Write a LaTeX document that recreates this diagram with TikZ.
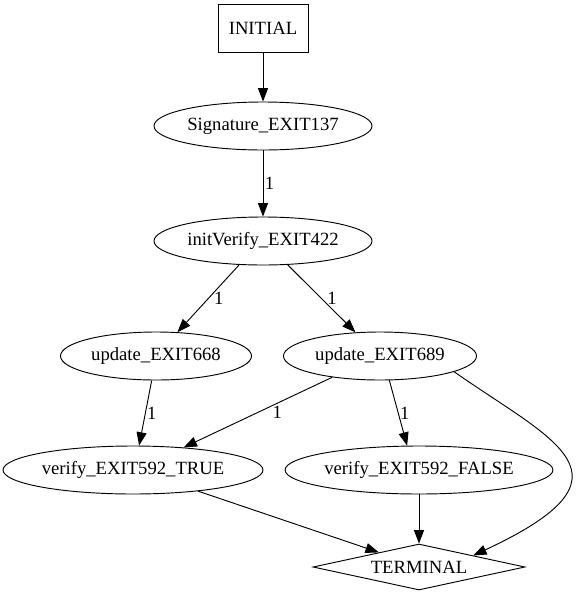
\documentclass[tikz,border=0pt]{standalone}
\usepackage{fontspec}
\setmainfont{Liberation Serif}
\usetikzlibrary{shapes.geometric,arrows.meta}
\begin{document}
\begin{tikzpicture}[x=0.75pt,y=-0.75pt,
  every node/.style={font=\fontsize{14pt}{16pt}\selectfont},
  box/.style={draw, line width=0.7pt, minimum width=67.5pt, minimum height=36pt, inner sep=0pt},
  oval/.style={draw, ellipse, line width=0.7pt, minimum height=36pt, inner sep=0pt},
  dia/.style={draw, diamond, aspect=4.6, line width=0.7pt, minimum width=159pt, minimum height=34.5pt, inner sep=0pt},
  e/.style={draw, line width=0.7pt, -{Triangle[length=10pt,width=7.5pt]}},
  lbl/.style={inner sep=1pt}]
\useasboundingbox (0,0) rectangle (579,597);
\node[box] (init) at (263,28) {INITIAL};
\node[oval, minimum width=163.5pt] (sig) at (263,126) {Signature\_EXIT137};
\node[oval, minimum width=163.5pt] (iv) at (263,241) {initVerify\_EXIT422};
\node[oval, minimum width=143.25pt] (u668) at (156,356) {update\_EXIT668};
\node[oval, minimum width=144.75pt] (u689) at (380,356) {update\_EXIT689};
\node[oval, minimum width=195pt] (vt) at (133,470) {verify\_EXIT592\_TRUE};
\node[oval, minimum width=200pt] (vf) at (419,470) {verify\_EXIT592\_FALSE};
\node[dia] (term) at (419,567) {TERMINAL};
\draw[e] (init) -- (sig);
\draw[e] (sig) -- node[lbl, right] {1} (iv);
\draw[e] (iv.225) -- node[lbl, right=3pt] {1} (u668.48);
\draw[e] (iv.316) -- node[lbl, right=3pt] {1} (u689.136);
\draw[e] (u668.260) -- node[lbl, right] {1} (vt.76);
\draw[e] (u689.204) -- node[lbl, pos=0.37, below=1pt] {1} (vt.24);
\draw[e] (u689.291) -- node[lbl, right] {1} (vf.116);
\draw[e] (vt.342) -- (term.160);
\draw[e] (vf) -- (term);
\draw[e] (u689.-12) .. controls +(100,70) and +(172,-80) .. (term.12);
\end{tikzpicture}
\end{document}
